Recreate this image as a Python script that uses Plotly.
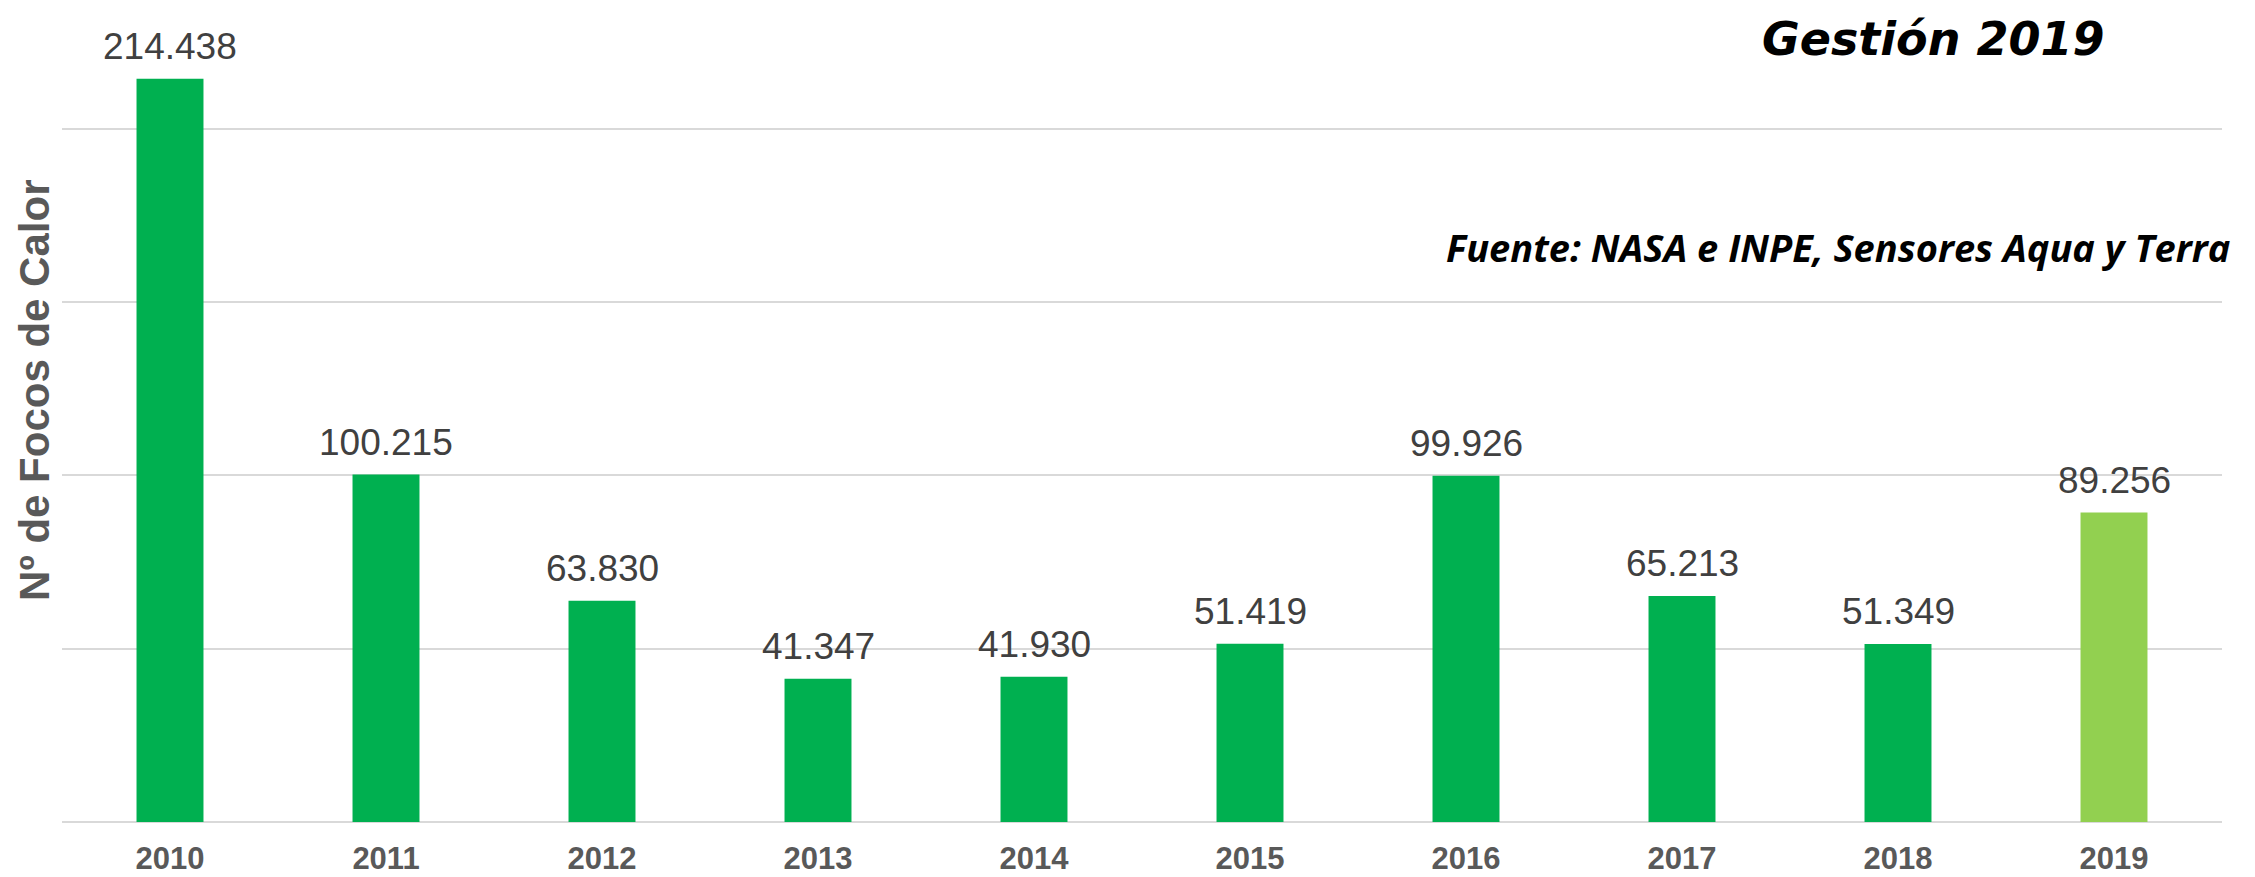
import plotly.graph_objects as go

VERDE = "#00B050"
VERDE_CLARO = "#92D050"
GRIS_TEXTO = "#404040"
GRIS_EJE = "#595959"
GRIS_GRILLA = "#D9D9D9"

anios = ["2010", "2011", "2012", "2013", "2014", "2015", "2016", "2017", "2018", "2019"]
focos = [214438, 100215, 63830, 41347, 41930, 51419, 99926, 65213, 51349, 89256]
colores = [VERDE] * 9 + [VERDE_CLARO]

titulo = "<b><i>Gestión 2019</i></b>"
fuente = "<b><i>Fuente: NASA e INPE, Sensores Aqua y Terra</i></b>"
titulo_y = "<b>Nº de Focos de Calor</b>"


def formato_es(valor: int) -> str:
    # separador de miles con punto
    return f"{valor:,}".replace(",", ".")


def grafico_focos() -> go.Figure:
    fig = go.Figure(
        go.Bar(
            x=anios,
            y=focos,
            marker=dict(color=colores, line=dict(width=0)),
            width=0.31,
            hoverinfo="x+y",
        )
    )

    # etiquetas de valor encima de cada barra (un poco más separadas que el default)
    etiquetas = [
        dict(
            x=a, y=v,
            xref="x", yref="y",
            text=formato_es(v),
            xanchor="center", yanchor="bottom",
            yshift=10,
            showarrow=False,
            font=dict(family="Liberation Sans, Arial", size=37, color=GRIS_TEXTO),
        )
        for a, v in zip(anios, focos)
    ]

    textos = [
        dict(
            text=titulo,
            xref="paper", yref="paper",
            x=0.866, y=1.001,
            xanchor="center", yanchor="middle",
            showarrow=False,
            font=dict(family="DejaVu Sans", size=46, color="black"),
        ),
        dict(
            text=fuente,
            xref="paper", yref="paper",
            x=1.0046, y=0.7347,
            xanchor="right", yanchor="middle",
            showarrow=False,
            font=dict(family="Open Sans", size=38, color="black"),
        ),
        dict(
            text=titulo_y,
            xref="paper", yref="paper",
            x=-0.013, y=0.5524,
            xanchor="center", yanchor="middle",
            textangle=-90,
            showarrow=False,
            font=dict(family="Liberation Sans, Arial", size=42, color=GRIS_EJE),
        ),
    ]

    fig.update_layout(
        template="none",
        width=2255,
        height=877,
        margin=dict(l=62, r=33, t=40, b=55),
        paper_bgcolor="white",
        plot_bgcolor="white",
        showlegend=False,
        xaxis=dict(
            automargin=False,
            tickmode="linear",
            dtick=1,
            showgrid=False,
            showline=False,
            ticks="outside",
            ticklen=9,
            tickcolor="white",
            tickfont=dict(family="Liberation Sans, Arial", size=31, color=GRIS_EJE),
            tickprefix="<b>",
            ticksuffix="</b>",
        ),
        yaxis=dict(
            automargin=False,
            range=[0, 225600],
            dtick=50000,
            showticklabels=False,
            ticks="",
            showline=False,
            gridcolor=GRIS_GRILLA,
            gridwidth=2,
            zeroline=True,
            zerolinecolor=GRIS_GRILLA,
            zerolinewidth=2,
            title=None,
        ),
        annotations=etiquetas + textos,
    )

    return fig


fig = grafico_focos()
# sin margen del body para que la figura quede en (0, 0)
fig.write_html(
    "out.html",
    config={"displayModeBar": False},
    post_script="document.body.style.margin = '0';",
)
